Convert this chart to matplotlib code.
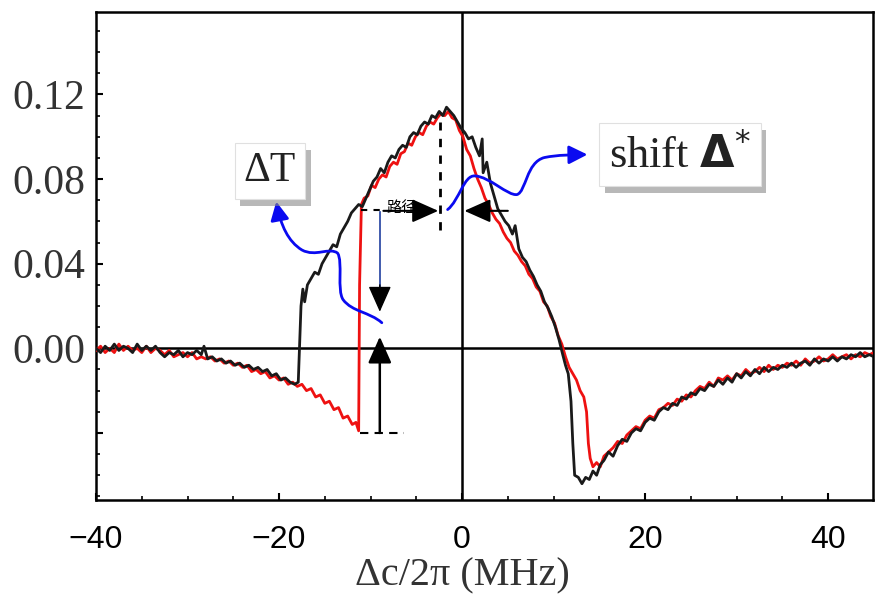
import matplotlib
matplotlib.use('Agg')

import numpy as np
import matplotlib.pyplot as plt
import matplotlib.patheffects as pe
from matplotlib.path import Path
from matplotlib.patches import FancyArrowPatch

plt.rcParams['mathtext.fontset'] = 'dejavusans'

# --- data (detuning in MHz, signal) ---
black_x = [-40.0, -39.5, -39.0, -38.5, -38.0, -37.5, -37.0, -36.5, -36.0, -35.5,
           -35.0, -34.5, -34.0, -33.5, -33.0, -32.5, -32.0, -31.5, -31.0, -30.5,
           -30.0, -29.5, -29.0, -28.5, -28.2, -27.8, -27.3, -26.8, -26.3, -25.8,
           -25.3, -24.8, -24.3, -23.8, -23.3, -22.8, -22.3, -21.8, -21.3, -20.8,
           -20.3, -19.8, -19.3, -18.8, -18.3, -17.9, -17.6, -17.4, -17.2, -16.9,
           -16.5, -16.1, -15.7, -15.3, -14.9, -14.5, -14.1, -13.7, -13.3, -12.9,
           -12.5, -12.1, -11.7, -11.3, -10.9, -10.5, -10.1, -9.7, -9.3, -8.9,
           -8.5, -8.1, -7.7, -7.3, -6.9, -6.5, -6.1, -5.7, -5.3, -4.9,
           -4.5, -4.1, -3.7, -3.3, -2.9, -2.5, -2.1, -1.7, -1.3, -0.9,
           -0.5, -0.1, 0.3, 0.7, 1.1, 1.5, 1.9, 2.2, 2.3, 2.7,
           3.1, 3.5, 3.9, 4.3, 4.7, 5.1, 5.5, 5.8, 6.2, 6.6,
           7.0, 7.4, 7.8, 8.2, 8.6, 9.0, 9.4, 9.8, 10.2, 10.6,
           11.0, 11.3, 11.6, 11.9, 12.1, 12.3, 12.7, 13.1, 13.5, 13.9,
           14.3, 14.7, 15.1, 15.5, 16.0, 16.5, 17.0, 17.5, 18.0, 18.5,
           19.0, 19.5, 20.0, 20.5, 21.0, 21.5, 22.0, 22.5, 23.0, 23.5,
           24.0, 24.5, 25.0, 25.5, 26.0, 26.5, 27.0, 27.5, 28.0, 28.5,
           29.0, 29.5, 30.0, 30.5, 31.0, 31.5, 32.0, 32.5, 33.0, 33.5,
           34.0, 34.5, 35.0, 35.5, 36.0, 36.5, 37.0, 37.5, 38.0, 38.5,
           39.0, 39.5, 40.0, 40.5, 41.0, 41.5, 42.0, 42.5, 43.0, 43.5,
           44.0, 44.5, 45.0]
black_y = [0.000, -0.002, 0.001, -0.001, 0.002, -0.001, 0.001, 0.000, -0.002, 0.002,
           -0.001, 0.001, -0.001, 0.001, -0.002, -0.004, -0.002, -0.003, -0.001, -0.004,
           -0.002, -0.003, -0.001, -0.003, 0.001, -0.005, -0.004, -0.006, -0.005, -0.007,
           -0.006, -0.008, -0.007, -0.009, -0.008, -0.010, -0.009, -0.011, -0.010, -0.013,
           -0.012, -0.015, -0.014, -0.016, -0.017, -0.016, 0.020, 0.028, 0.022, 0.030,
           0.033, 0.036, 0.035, 0.040, 0.043, 0.046, 0.049, 0.048, 0.054, 0.057,
           0.060, 0.064, 0.066, 0.068, 0.067, 0.071, 0.075, 0.079, 0.081, 0.085,
           0.083, 0.088, 0.091, 0.090, 0.094, 0.096, 0.095, 0.100, 0.102, 0.101,
           0.105, 0.107, 0.106, 0.110, 0.109, 0.112, 0.110, 0.114, 0.112, 0.110,
           0.107, 0.104, 0.102, 0.099, 0.100, 0.095, 0.091, 0.099, 0.083, 0.088,
           0.078, 0.072, 0.066, 0.063, 0.060, 0.058, 0.054, 0.058, 0.047, 0.043,
           0.041, 0.037, 0.034, 0.030, 0.027, 0.022, 0.019, 0.015, 0.010, 0.004,
           -0.003, -0.008, -0.012, -0.025, -0.045, -0.060, -0.061, -0.064, -0.061, -0.062,
           -0.058, -0.060, -0.055, -0.053, -0.049, -0.051, -0.046, -0.043, -0.044, -0.040,
           -0.038, -0.039, -0.035, -0.033, -0.034, -0.030, -0.028, -0.029, -0.026, -0.027,
           -0.023, -0.024, -0.021, -0.022, -0.019, -0.020, -0.017, -0.018, -0.015, -0.017,
           -0.014, -0.016, -0.012, -0.014, -0.011, -0.013, -0.010, -0.012, -0.009, -0.011,
           -0.009, -0.010, -0.008, -0.009, -0.007, -0.009, -0.007, -0.006, -0.008, -0.005,
           -0.007, -0.005, -0.006, -0.004, -0.006, -0.004, -0.005, -0.003, -0.004, -0.002,
           -0.004, -0.003, -0.004]

red_x = [-40.0, -39.5, -39.0, -38.5, -38.0, -37.5, -37.0, -36.5, -36.0, -35.5,
         -35.0, -34.5, -34.0, -33.5, -33.0, -32.5, -32.0, -31.5, -31.0, -30.5,
         -30.0, -29.5, -29.0, -28.5, -28.0, -27.5, -27.0, -26.5, -26.0, -25.5,
         -25.0, -24.5, -24.0, -23.5, -23.0, -22.5, -22.0, -21.5, -21.0, -20.5,
         -20.0, -19.5, -19.0, -18.5, -18.0, -17.5, -17.0, -16.5, -16.0, -15.5,
         -15.0, -14.5, -14.0, -13.5, -13.0, -12.5, -12.0, -11.6, -11.3, -11.2,
         -11.0, -10.7, -10.3, -9.9, -9.5, -9.1, -8.7, -8.3, -7.9, -7.5,
         -7.1, -6.7, -6.3, -5.9, -5.5, -5.1, -4.7, -4.3, -3.9, -3.5,
         -3.1, -2.7, -2.3, -1.9, -1.5, -1.1, -0.7, -0.3, 0.1, 0.5,
         0.9, 1.3, 1.7, 2.1, 2.5, 2.9, 3.3, 3.7, 4.1, 4.5,
         4.9, 5.3, 5.7, 6.1, 6.5, 6.9, 7.3, 7.7, 8.1, 8.5,
         8.9, 9.3, 9.7, 10.1, 10.5, 10.9, 11.3, 11.7, 12.1, 12.5,
         12.9, 13.3, 13.6, 13.8, 14.0, 14.3, 14.7, 15.1, 15.5, 16.0,
         16.5, 17.0, 17.5, 18.0, 18.5, 19.0, 19.5, 20.0, 20.5, 21.0,
         21.5, 22.0, 22.5, 23.0, 23.5, 24.0, 24.5, 25.0, 25.5, 26.0,
         26.5, 27.0, 27.5, 28.0, 28.5, 29.0, 29.5, 30.0, 30.5, 31.0,
         31.5, 32.0, 32.5, 33.0, 33.5, 34.0, 34.5, 35.0, 35.5, 36.0,
         36.5, 37.0, 37.5, 38.0, 38.5, 39.0, 39.5, 40.0, 40.5, 41.0,
         41.5, 42.0, 42.5, 43.0, 43.5, 44.0, 44.5, 45.0]
red_y = [-0.001, 0.001, -0.002, 0.000, -0.002, 0.002, -0.001, 0.001, -0.001, 0.000,
         -0.002, 0.001, -0.002, 0.000, -0.001, -0.003, -0.001, -0.004, -0.003, -0.002,
         -0.004, -0.002, -0.005, -0.004, -0.005, -0.004, -0.006, -0.005, -0.007, -0.006,
         -0.008, -0.007, -0.009, -0.008, -0.011, -0.010, -0.012, -0.011, -0.014, -0.013,
         -0.015, -0.014, -0.017, -0.016, -0.018, -0.017, -0.020, -0.019, -0.023, -0.022,
         -0.026, -0.025, -0.029, -0.028, -0.033, -0.032, -0.036, -0.035, -0.039, 0.030,
         0.068, 0.071, 0.072, 0.077, 0.076, 0.080, 0.082, 0.081, 0.086, 0.088,
         0.087, 0.092, 0.093, 0.097, 0.096, 0.100, 0.102, 0.101, 0.105, 0.107,
         0.106, 0.109, 0.111, 0.110, 0.112, 0.109, 0.108, 0.103, 0.100, 0.094,
         0.091, 0.085, 0.080, 0.076, 0.071, 0.068, 0.064, 0.061, 0.059, 0.055,
         0.052, 0.050, 0.046, 0.044, 0.041, 0.039, 0.035, 0.033, 0.029, 0.027,
         0.022, 0.020, 0.015, 0.012, 0.006, 0.002, -0.004, -0.009, -0.012, -0.015,
         -0.020, -0.023, -0.030, -0.045, -0.052, -0.056, -0.054, -0.056, -0.051, -0.049,
         -0.047, -0.044, -0.045, -0.041, -0.039, -0.037, -0.038, -0.034, -0.032, -0.033,
         -0.029, -0.028, -0.026, -0.027, -0.024, -0.025, -0.022, -0.023, -0.020, -0.018,
         -0.019, -0.016, -0.018, -0.014, -0.015, -0.013, -0.015, -0.012, -0.013, -0.010,
         -0.012, -0.011, -0.009, -0.011, -0.008, -0.010, -0.008, -0.009, -0.007, -0.008,
         -0.006, -0.008, -0.005, -0.007, -0.006, -0.004, -0.006, -0.005, -0.003, -0.005,
         -0.004, -0.003, -0.005, -0.003, -0.004, -0.002, -0.003, -0.002]

y_ticks = [-0.04, 0.00, 0.04, 0.08, 0.12]
y_ticklabels = ['', '0.00', '0.04', '0.08', '0.12']
x_ticks = [-40, -20, 0, 20, 40]
x_ticklabels = ['\u221240', '\u221220', '0', '20', '40']

fig = plt.figure(figsize=(8.75, 6.05), dpi=100)
ax = fig.add_axes([96 / 875, 105 / 605, 777 / 875, 488 / 605])

ax.plot(red_x, red_y, color='#ee1111', lw=2.0, zorder=3)
ax.plot(black_x, black_y, color='#1a1a1a', lw=2.0, zorder=4)

ax.axhline(0, color='black', lw=1.8, zorder=2)
ax.axvline(0, color='black', lw=1.8, zorder=2)

ax.set_xlim(-40, 44.9)
ax.set_ylim(-0.0717, 0.159)

ax.set_xticks(x_ticks)
ax.set_xticklabels(x_ticklabels, fontfamily='Liberation Sans', fontsize=23)
ax.set_xticks(np.arange(-40, 45, 5), minor=True)
ax.set_yticks(y_ticks)
ax.set_yticklabels(y_ticklabels, fontfamily='Liberation Serif', fontsize=30, color='#333333')
ax.set_yticks(np.arange(-0.07, 0.16, 0.01), minor=True)
ax.tick_params(which='major', direction='in', length=5, width=1.5, pad=8)
ax.tick_params(which='minor', direction='in', length=3, width=1.2)
ax.tick_params(axis='x', pad=18)
for s in ax.spines.values():
    s.set_linewidth(1.8)

ax.set_xlabel('\u0394c/2\u03c0 (MHz)', fontfamily='Liberation Serif', fontsize=29,
              color='#333333')
ax.xaxis.set_label_coords((462 - 96) / 777, -0.118)

# --- annotations ---
# dashed guide lines
ax.plot([-2.45, -2.45], [0.056, 0.107], color='black', lw=2, ls=(0, (3, 3)), zorder=5)
ax.plot([-11.0, -8.6], [0.0655, 0.0655], color='black', lw=1.5, ls=(0, (3, 3)), zorder=5)
ax.plot([-11.2, -6.3], [-0.040, -0.040], color='black', lw=1.5, ls=(0, (4, 3)), zorder=5)

# shift arrows
ax.annotate('', xy=(-2.6, 0.0650), xytext=(-8.6, 0.0650),
            arrowprops=dict(arrowstyle='-|>,head_length=0.9,head_width=0.4', color='black',
                            lw=1.5, mutation_scale=18, shrinkA=0, shrinkB=0), zorder=6)
ax.annotate('', xy=(0.25, 0.0650), xytext=(5.0, 0.0650),
            arrowprops=dict(arrowstyle='-|>,head_length=0.9,head_width=0.4', color='black',
                            lw=1.5, mutation_scale=18, shrinkA=0, shrinkB=0), zorder=6)

# delta T arrows
ax.plot([-8.99, -8.99], [0.0646, 0.024], color='#2040a0', lw=1.2, zorder=5)
ax.annotate('', xy=(-8.99, 0.0173), xytext=(-8.99, 0.030),
            arrowprops=dict(arrowstyle='-|>,head_length=0.9,head_width=0.4', color='black',
                            lw=1, mutation_scale=18, shrinkA=0, shrinkB=0), zorder=6)
ax.annotate('', xy=(-8.99, 0.0055), xytext=(-8.99, -0.040),
            arrowprops=dict(arrowstyle='-|>,head_length=0.9,head_width=0.4', color='black',
                            lw=1.8, mutation_scale=18, shrinkA=0, shrinkB=0), zorder=6)

ax.text(-6.6, 0.0668, '\u8def\u5f84', fontsize=11, ha='center', va='center',
        family=['Noto Sans CJK SC', 'DejaVu Sans'], zorder=7)

# blue curved arrows
C4 = Path.CURVE4
left_path = Path([(-8.77, 0.0121),
                  (-10.1, 0.0172), (-12.0, 0.0172), (-13.0, 0.0230),
                  (-13.7, 0.0275), (-13.0, 0.0410), (-13.6, 0.0450),
                  (-14.5, 0.0480), (-16.0, 0.0430), (-17.5, 0.0465),
                  (-19.0, 0.0505), (-19.8, 0.0580), (-20.3, 0.0694)],
                 [Path.MOVETO] + [C4] * 12)
ax.add_patch(FancyArrowPatch(path=left_path, arrowstyle='-|>,head_length=0.7,head_width=0.35',
                             mutation_scale=16, color='#0a0af0', lw=2, zorder=6))

right_path = Path([(-1.58, 0.0656),
                   (-0.3, 0.0700), (0.2, 0.0820), (1.4, 0.0815),
                   (3.0, 0.0812), (5.0, 0.0720), (6.0, 0.0727),
                   (7.0, 0.0740), (7.0, 0.0880), (9.0, 0.0902),
                   (10.5, 0.0915), (12.0, 0.0915), (13.7, 0.0916)],
                  [Path.MOVETO] + [C4] * 12)
ax.add_patch(FancyArrowPatch(path=right_path, arrowstyle='-|>,head_length=0.7,head_width=0.35',
                             mutation_scale=16, color='#0a0af0', lw=2, zorder=6))

# boxed labels with a soft shadow on the box
def boxed(x, y, s, size):
    t = ax.text(x, y, s, ha='center', va='center', fontsize=size, color='#222222',
                family='Liberation Serif', zorder=8,
                bbox=dict(boxstyle='square,pad=0.22', fc='white', ec='#e0e0e0', lw=0.8))
    t.get_bbox_patch().set_path_effects([
        pe.SimplePatchShadow(offset=(4, -5), shadow_rgbFace='#8a8a8a', alpha=0.6),
        pe.Normal()])

boxed(-21.0, 0.0838, '\u0394T', 30)
boxed(23.8, 0.0916, r'shift $\mathbf{\Delta}^{*}$', 32)

fig.savefig('out.png', dpi=100)
